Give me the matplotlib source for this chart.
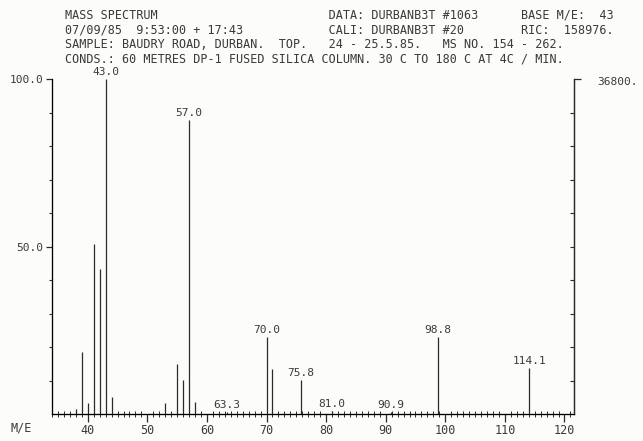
import matplotlib
matplotlib.use("Agg")
import matplotlib.pyplot as plt
from matplotlib.ticker import MultipleLocator, FixedLocator

# peak list (m/e, relative intensity %)
mz = [38, 39, 40, 41, 42, 43.0, 44, 53, 55, 56, 57.0, 58, 63.3, 70.0, 71,
      75.8, 81.0, 90.9, 98.8, 114.1]
rel = [1.5, 18.5, 3.4, 50.6, 43.4, 100.0, 5.1, 3.2, 15.0, 10.2, 87.7, 3.6,
       0.6, 23.1, 13.4, 10.2, 0.8, 0.6, 23.1, 13.6]
labelled = [43.0, 57.0, 63.3, 70.0, 75.8, 81.0, 90.9, 98.8, 114.1]

header = [
    "MASS SPECTRUM".ljust(37) + "DATA: DURBANB3T #1063".ljust(27) + "BASE M/E:  43",
    "07/09/85  9:53:00 + 17:43".ljust(37) + "CALI: DURBANB3T #20".ljust(27) + "RIC:  158976.",
    "SAMPLE: BAUDRY ROAD, DURBAN.  TOP.   24 - 25.5.85.   MS NO. 154 - 262.",
    "CONDS.: 60 METRES DP-1 FUSED SILICA COLUMN. 30 C TO 180 C AT 4C / MIN.",
]
full_scale = "36800."

W, H = 643, 441
mono = "DejaVu Sans Mono"
ink = "#2b2b2b"
txt = "#3a3a3a"

fig = plt.figure(figsize=(W / 100, H / 100), dpi=100, facecolor="#fcfcfb")

def fx(x):
    return x / W

def fy(y):
    return 1 - y / H

# axes placed in pixel terms
x0, x1 = 52, 574
y_base, y_top = 414, 79
ax = fig.add_axes([fx(x0), fy(y_base), (x1 - x0) / W, (y_base - y_top) / H])
ax.set_facecolor("none")
ax.set_xlim(34.0, 121.6)
ax.set_ylim(0, 100)

ax.vlines(mz, -1.2, rel, color=ink, lw=0.9)
for m, r in zip(mz, rel):
    if m in labelled:
        ax.annotate(f"{m:.1f}", (m, r), xytext=(0, 1.5), textcoords="offset points",
                    ha="center", va="bottom", fontsize=8, family=mono, color=txt)

for s in ["top"]:
    ax.spines[s].set_visible(False)
for s in ["left", "bottom", "right"]:
    ax.spines[s].set_color(ink)
    ax.spines[s].set_linewidth(0.9)

ax.xaxis.set_major_locator(MultipleLocator(10))
ax.xaxis.set_minor_locator(MultipleLocator(1))
ax.tick_params(axis="x", which="major", direction="out", length=5.5, width=0.9,
               color=ink, pad=1.5, labelsize=8.5, labelcolor=txt)
ax.tick_params(axis="x", which="minor", direction="inout", length=4, width=0.7,
               color=ink)
ax.set_xticks([40, 50, 60, 70, 80, 90, 100, 110, 120])
ax.set_xticklabels(["40", "50", "60", "70", "80", "90", "100", "110", "120"],
                   family=mono)

ax.yaxis.set_major_locator(FixedLocator([50, 100]))
ax.yaxis.set_minor_locator(FixedLocator([10, 20, 30, 40, 60, 70, 80, 90]))
ax.set_yticklabels(["50.0", "100.0"], family=mono)
ax.tick_params(axis="y", which="major", direction="out", length=4.5, width=0.9,
               color=ink, pad=2, labelsize=8, labelcolor=txt)
ax.tick_params(axis="y", which="minor", direction="out", length=2.2, width=0.8,
               color=ink)

# right-hand scale: ticks pointing inward, top tick outward
ax2 = ax.twinx()
ax2.set_ylim(0, 100)
ax2.spines["top"].set_visible(False)
ax2.spines["right"].set_color(ink)
ax2.spines["right"].set_linewidth(0.9)
ax2.yaxis.set_major_locator(FixedLocator([100]))
ax2.yaxis.set_minor_locator(FixedLocator([10, 20, 30, 40, 50, 60, 70, 80, 90]))
ax2.set_yticklabels([""])
ax2.tick_params(axis="y", which="major", direction="out", length=5, width=0.9, color=ink)
ax2.tick_params(axis="y", which="minor", direction="in", length=3, width=0.8, color=ink)

fig.text(fx(597), fy(82), full_scale, ha="left", va="center", fontsize=8,
         family=mono, color=txt)

for i, line in enumerate(header):
    fig.text(fx(65), fy(15.5 + i * 14.5), line, ha="left", va="center",
             fontsize=8.5, family=mono, color=txt)

fig.text(fx(21), fy(428), "M/E", ha="center", va="center", fontsize=8.5,
         family=mono, color=txt)

fig.savefig("out.png", dpi=100, facecolor=fig.get_facecolor())
